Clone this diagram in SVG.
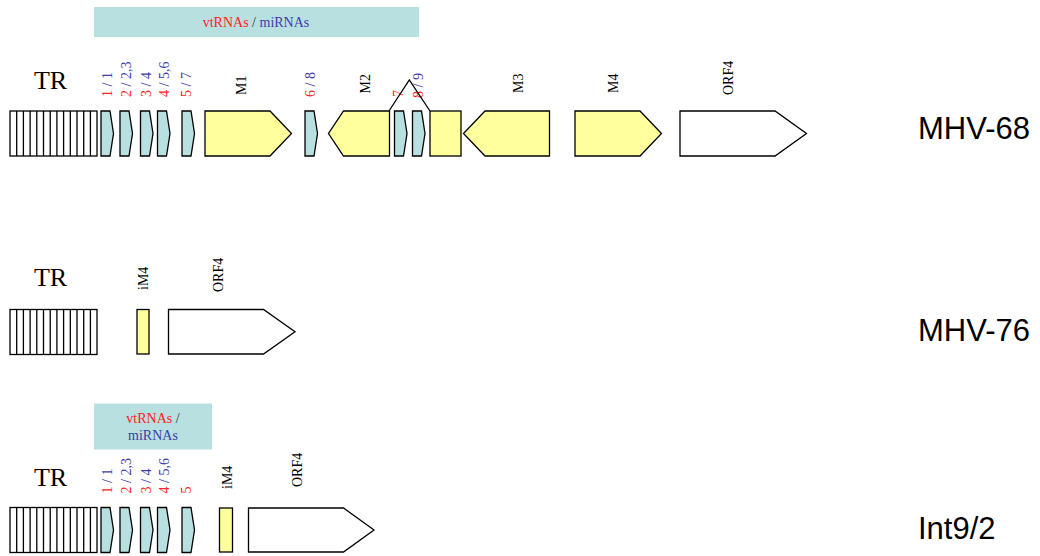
<svg xmlns="http://www.w3.org/2000/svg" width="1040" height="556" viewBox="0 0 1040 556">
  <style>
    .bg { fill: #ffffff; }
    .banner { fill: #b9e0e1; }
    .rna { fill: #b9e0e1; stroke: #000; stroke-width: 1.3; stroke-linejoin: miter; }
    .orf { fill: #ffff9e; stroke: #000; stroke-width: 1.3; }
    .open { fill: #ffffff; stroke: #000; stroke-width: 1.3; }
    .tr { fill: #ffffff; stroke: #000; stroke-width: 1.3; }
    .hatch { stroke: #000; stroke-width: 1.3; }
    .splice { fill: none; stroke: #000; stroke-width: 1.3; }
    .lbl { font-family: "Liberation Serif", "Times New Roman", serif; font-size: 14px; fill: #000; }
    .trlbl { font-family: "Liberation Serif", "Times New Roman", serif; font-size: 26px; fill: #000; text-anchor: middle; }
    .bantxt { font-family: "Liberation Serif", "Times New Roman", serif; font-size: 14px; text-anchor: middle; fill: #333; }
    .red { fill: #ff2222; }
    .blue { fill: #3c3ca8; }
    .strain { font-family: "Liberation Sans", Arial, sans-serif; font-size: 31px; fill: #000; }
  </style>
  <defs>
    <!-- terminal repeat: box with vertical hatching -->
    <g id="trBlock">
      <rect class="tr" x="10" y="0" width="87" height="45"/>
      <path class="hatch" d="M16.7 0V45M23.4 0V45M30.1 0V45M36.8 0V45M43.5 0V45M50.2 0V45M56.9 0V45M63.6 0V45M70.3 0V45M77 0V45M83.7 0V45M90.4 0V45"/>
    </g>
    <!-- small vtRNA/miRNA element, pointing right -->
    <path id="rnaEl" class="rna" d="M0 0H9L12.5 22.5L9 45H0Z"/>
  </defs>
  <rect class="bg" x="0" y="0" width="1040" height="556"/>

  <!-- ===================== MHV-68 ===================== -->
  <g id="mhv68">
    <g id="mhv68-banner">
      <rect class="banner" x="94" y="7" width="325" height="30"/>
      <text class="bantxt" x="256" y="26.5"><tspan class="red">vtRNAs</tspan> / <tspan class="blue">miRNAs</tspan></text>
    </g>
    <g id="mhv68-tr">
      <text class="trlbl" x="50.5" y="89">TR</text>
      <use href="#trBlock" y="111"/>
    </g>
    <g id="mhv68-rna1"><use href="#rnaEl" x="101" y="111"/>
      <text class="lbl" transform="translate(112,97) rotate(-90)"><tspan class="red">1</tspan><tspan class="blue"> / 1</tspan></text></g>
    <g id="mhv68-rna2"><use href="#rnaEl" x="120" y="111"/>
      <text class="lbl" transform="translate(130.5,97) rotate(-90)"><tspan class="red">2</tspan><tspan class="blue"> / 2,3</tspan></text></g>
    <g id="mhv68-rna3"><use href="#rnaEl" x="140.5" y="111"/>
      <text class="lbl" transform="translate(151,97) rotate(-90)"><tspan class="red">3</tspan><tspan class="blue"> / 4</tspan></text></g>
    <g id="mhv68-rna4"><use href="#rnaEl" x="157.5" y="111"/>
      <text class="lbl" transform="translate(168.5,97) rotate(-90)"><tspan class="red">4</tspan><tspan class="blue"> / 5,6</tspan></text></g>
    <g id="mhv68-rna5"><use href="#rnaEl" x="182" y="111"/>
      <text class="lbl" transform="translate(191,97) rotate(-90)"><tspan class="red">5</tspan><tspan class="blue"> / 7</tspan></text></g>
    <g id="mhv68-M1">
      <path class="orf" d="M205 111H270L291.5 133.5L270 156H205Z"/>
      <text class="lbl" transform="translate(246,95) rotate(-90)">M1</text>
    </g>
    <g id="mhv68-rna6"><use href="#rnaEl" x="305" y="111"/>
      <text class="lbl" transform="translate(314.5,97) rotate(-90)"><tspan class="red">6</tspan><tspan class="blue"> / 8</tspan></text></g>
    <g id="mhv68-M2">
      <path class="orf" d="M389.5 111H343.5L328.5 133.5L343.5 156H389.5Z"/>
      <text class="lbl" transform="translate(369.5,93.5) rotate(-90)">M2</text>
    </g>
    <g id="mhv68-rna7"><use href="#rnaEl" x="394.5" y="111"/>
      <text class="lbl red" transform="translate(403,97) rotate(-90)">7</text></g>
    <g id="mhv68-rna8"><use href="#rnaEl" x="412.5" y="111"/>
      <text class="lbl" transform="translate(422.5,98) rotate(-90)"><tspan class="red">8</tspan><tspan class="blue"> / 9</tspan></text></g>
    <g id="mhv68-M2b">
      <rect class="orf" x="430" y="111" width="31" height="45"/>
    </g>
    <g id="mhv68-M3">
      <path class="orf" d="M549.5 111H485L463.5 133.5L485 156H549.5Z"/>
      <text class="lbl" transform="translate(522.5,93) rotate(-90)">M3</text>
    </g>
    <g id="mhv68-M4">
      <path class="orf" d="M575 111H640L661.5 133.5L640 156H575Z"/>
      <text class="lbl" transform="translate(617.5,93) rotate(-90)">M4</text>
    </g>
    <g id="mhv68-ORF4">
      <path class="open" d="M680 111H775L806.5 133.5L775 156H680Z"/>
      <text class="lbl" transform="translate(733,95) rotate(-90)">ORF4</text>
    </g>
    <text id="mhv68-name" class="strain" x="918" y="139">MHV-68</text>
  </g>

  <!-- ===================== MHV-76 ===================== -->
  <g id="mhv76">
    <g id="mhv76-tr">
      <text class="trlbl" x="50.5" y="286">TR</text>
      <use href="#trBlock" y="309.5"/>
    </g>
    <g id="mhv76-iM4">
      <rect class="orf" x="137" y="309.5" width="12" height="44.5"/>
      <text class="lbl" transform="translate(148,290) rotate(-90)">iM4</text>
    </g>
    <g id="mhv76-ORF4">
      <path class="open" d="M168.5 309.5H263.5L295 331.75L263.5 354H168.5Z"/>
      <text class="lbl" transform="translate(223,292) rotate(-90)">ORF4</text>
    </g>
    <text id="mhv76-name" class="strain" x="918" y="341">MHV-76</text>
  </g>

  <!-- ===================== Int9/2 ===================== -->
  <g id="int92">
    <g id="int92-banner">
      <rect class="banner" x="94" y="403.5" width="118" height="46"/>
      <text class="bantxt" x="153" y="423"><tspan class="red">vtRNAs</tspan> /</text>
      <text class="bantxt blue" x="153" y="439.5">miRNAs</text>
    </g>
    <g id="int92-tr">
      <text class="trlbl" x="50.5" y="486">TR</text>
      <use href="#trBlock" y="507.5"/>
    </g>
    <g id="int92-rna1"><use href="#rnaEl" x="101" y="507.5"/>
      <text class="lbl" transform="translate(112,493.5) rotate(-90)"><tspan class="red">1</tspan><tspan class="blue"> / 1</tspan></text></g>
    <g id="int92-rna2"><use href="#rnaEl" x="120" y="507.5"/>
      <text class="lbl" transform="translate(130.5,493.5) rotate(-90)"><tspan class="red">2</tspan><tspan class="blue"> / 2,3</tspan></text></g>
    <g id="int92-rna3"><use href="#rnaEl" x="140.5" y="507.5"/>
      <text class="lbl" transform="translate(151,493.5) rotate(-90)"><tspan class="red">3</tspan><tspan class="blue"> / 4</tspan></text></g>
    <g id="int92-rna4"><use href="#rnaEl" x="157.5" y="507.5"/>
      <text class="lbl" transform="translate(168.5,493.5) rotate(-90)"><tspan class="red">4</tspan><tspan class="blue"> / 5,6</tspan></text></g>
    <g id="int92-rna5"><use href="#rnaEl" x="182" y="507.5"/>
      <text class="lbl red" transform="translate(191,493.5) rotate(-90)">5</text></g>
    <g id="int92-iM4">
      <rect class="orf" x="219.5" y="508" width="13" height="44"/>
      <text class="lbl" transform="translate(232,489) rotate(-90)">iM4</text>
    </g>
    <g id="int92-ORF4">
      <path class="open" d="M248.5 508H343.5L374 530L343.5 552H248.5Z"/>
      <text class="lbl" transform="translate(301.5,487) rotate(-90)">ORF4</text>
    </g>
    <text id="int92-name" class="strain" x="918" y="539">Int9/2</text>
  </g>

  <!-- splice connector over the M2 exons -->
  <g id="connectors">
    <path class="splice" d="M389 111L409.3 80L430 111"/>
  </g>
</svg>
